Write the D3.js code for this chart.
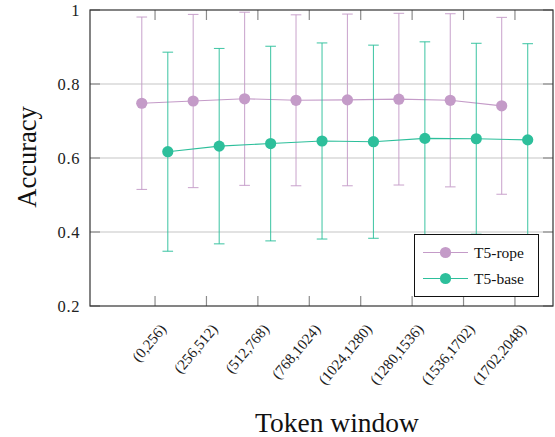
<!DOCTYPE html>
<html><head><meta charset="utf-8">
<script src="https://cdn.jsdelivr.net/npm/d3@7"></script>
<style>html,body{margin:0;padding:0;background:#fff;} svg{display:block;}</style>
</head><body>
<svg id="c" width="555" height="437"></svg>
<script>
const categories = ["(0,256)","(256,512)","(512,768)","(768,1024)","(1024,1280)","(1280,1536)","(1536,1702)","(1702,2048)"];
const ropeMean = [0.748,0.754,0.760,0.756,0.757,0.759,0.756,0.741];
const ropeErr  = [0.233,0.234,0.234,0.231,0.232,0.232,0.234,0.239];
const baseMean = [0.617,0.632,0.639,0.646,0.644,0.653,0.652,0.649];
const baseErr  = [0.269,0.264,0.263,0.265,0.261,0.261,0.258,0.260];
const yTicks = [0.2,0.4,0.6,0.8,1];
const seriesNames = ["T5-rope","T5-base"];
const seriesColors = ["#c49bc8","#2dbf9b"];

const svg = d3.select("#c");
const L=90, R=553, T=10, B=306;
const x = d3.scaleLinear().domain([-1.265,7.74]).range([L,R]);
const y = d3.scaleLinear().domain([0.2,1]).range([B,T]);
const font = "'Liberation Serif','Times New Roman',serif";

// grid
svg.append("g").selectAll("line").data(yTicks.filter(v=>v>0.2&&v<1)).join("line")
  .attr("x1",L).attr("x2",R).attr("y1",d=>y(d)).attr("y2",d=>y(d))
  .attr("stroke","#d9d9d9").attr("stroke-width",1.4);
// tick marks
const tk = svg.append("g").attr("stroke","#8c8c8c").attr("stroke-width",1.2);
yTicks.forEach(v=>{
  tk.append("line").attr("x1",L).attr("x2",L+10).attr("y1",y(v)).attr("y2",y(v));
  tk.append("line").attr("x1",R-10).attr("x2",R).attr("y1",y(v)).attr("y2",y(v));
});
categories.forEach((c,i)=>{
  tk.append("line").attr("x1",x(i)).attr("x2",x(i)).attr("y1",B).attr("y2",B-10);
  tk.append("line").attr("x1",x(i)).attr("x2",x(i)).attr("y1",T).attr("y2",T+10);
});

// series
const series = [
  {name:seriesNames[0], color:seriesColors[0], mean:ropeMean, err:ropeErr, off:-0.258},
  {name:seriesNames[1], color:seriesColors[1], mean:baseMean, err:baseErr, off:0.248}
];
series.forEach(s=>{
  const g = svg.append("g");
  const pts = s.mean.map((m,i)=>({x:x(i+s.off), m, e:s.err[i]}));
  pts.forEach(p=>{
    g.append("line").attr("x1",p.x).attr("x2",p.x).attr("y1",y(p.m+p.e)).attr("y2",y(p.m-p.e))
      .attr("stroke",s.color).attr("stroke-width",1.1).attr("stroke-opacity",0.85);
    [p.m+p.e,p.m-p.e].forEach(v=>g.append("line").attr("x1",p.x-5.3).attr("x2",p.x+5.3)
      .attr("y1",y(v)).attr("y2",y(v)).attr("stroke",s.color).attr("stroke-width",1.1).attr("stroke-opacity",0.85));
  });
  g.append("path").datum(pts).attr("d",d3.line().x(p=>p.x).y(p=>y(p.m)))
    .attr("fill","none").attr("stroke",s.color).attr("stroke-width",1.1);
  g.selectAll("circle").data(pts).join("circle").attr("cx",p=>p.x).attr("cy",p=>y(p.m))
    .attr("r",5.6).attr("fill",s.color);
});

// frame
svg.append("rect").attr("x",L).attr("y",T).attr("width",R-L).attr("height",B-T)
  .attr("fill","none").attr("stroke","#333").attr("stroke-width",1.2);

// y tick labels
svg.append("g").selectAll("text").data(yTicks).join("text")
  .attr("x",80).attr("y",d=>y(d)).attr("dy","0.35em").attr("text-anchor","end")
  .attr("font-family",font).attr("font-size",16.5).attr("letter-spacing",0.6).attr("fill","#222")
  .text(d=>d===1?"1":d3.format(".1f")(d));

// x tick labels
svg.append("g").selectAll("text").data(categories).join("text")
  .attr("transform",(d,i)=>`translate(${x(i)+8},${326}) rotate(-50)`)
  .attr("text-anchor","end").attr("dy","0.35em")
  .attr("font-family",font).attr("font-size",15).attr("fill","#222")
  .text(d=>d);

// axis titles
svg.append("text").attr("x",337).attr("y",432).attr("text-anchor","middle")
  .attr("font-family",font).attr("font-size",27.5).attr("fill","#111").text("Token window");
svg.append("text").attr("transform",`translate(36,157) rotate(-90)`).attr("text-anchor","middle")
  .attr("font-family",font).attr("font-size",26.5).attr("fill","#111").text("Accuracy");

// legend
const lg = svg.append("g");
lg.append("rect").attr("x",414.5).attr("y",234.5).attr("width",124).attr("height",62)
  .attr("fill","#fff").attr("stroke","#111").attr("stroke-width",1);
series.forEach((s,k)=>{
  const ly = 252.5 + k*26;
  lg.append("line").attr("x1",423).attr("x2",468).attr("y1",ly).attr("y2",ly).attr("stroke",s.color).attr("stroke-width",1.1);
  lg.append("circle").attr("cx",445.5).attr("cy",ly).attr("r",5.6).attr("fill",s.color);
  lg.append("text").attr("x",474).attr("y",ly).attr("dy","0.35em").attr("font-family",font)
    .attr("font-size",15.5).attr("fill","#111").text(s.name);
});
</script>
</body></html>
